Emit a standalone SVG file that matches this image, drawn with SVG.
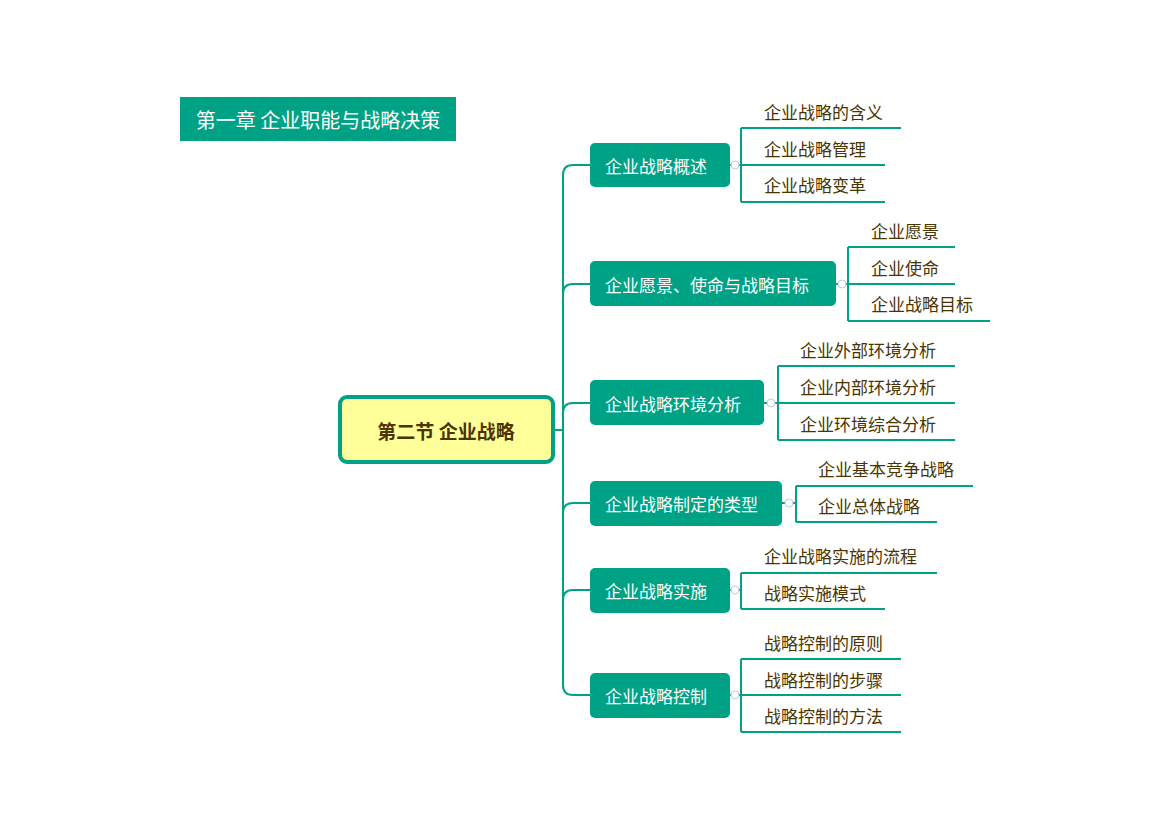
<svg xmlns="http://www.w3.org/2000/svg" width="1175" height="831" viewBox="0 0 1175 831">
<style>
.ln{fill:none;stroke:#00a285;stroke-width:2}
.br{fill:#00a285}
.bt{font-family:"Microsoft YaHei","Noto Sans CJK SC",sans-serif;font-size:17px;fill:#fff;dominant-baseline:central}
.ct{font-family:"Microsoft YaHei","Noto Sans CJK SC",sans-serif;font-size:17px;fill:#4a3400;dominant-baseline:central}
.cc{fill:#fff;stroke:#c0c8e8;stroke-width:1}
</style>
<rect width="1175" height="831" fill="#fff"/>
<g id="title"><rect x="180" y="97" width="276" height="44" fill="#00a285"/><text x="318" y="119" text-anchor="middle" style="font-family:'Microsoft YaHei','Noto Sans CJK SC',sans-serif;font-size:20px;fill:#fff;dominant-baseline:central">第一章 企业职能与战略决策</text></g>
<g id="connectors">
<path class="ln" d="M553 430H563M563 175Q563 165 573 165H590M563 294Q563 284 573 284H590M563 413Q563 403 573 403H590M563 513Q563 503 573 503H590M563 600Q563 590 573 590H590M563 685Q563 695 573 695H590M563 175V685"/>
<path class="ln" d="M730 165H741M741 128H901M741 128V202M741 165H885M741 202H885"/>
<path class="ln" d="M836 284H848M848 247H955M848 247V321M848 284H955M848 321H990"/>
<path class="ln" d="M764 403H778M778 366H955M778 366V440M778 403H955M778 440H955"/>
<path class="ln" d="M782 503H796M796 486H973M796 486V522M796 522H937"/>
<path class="ln" d="M730 590H741M741 573H937M741 573V609M741 609H885"/>
<path class="ln" d="M730 695H741M741 659H901M741 659V732M741 695H901M741 732H901"/>
<circle class="cc" cx="735" cy="165" r="4"/><circle class="cc" cx="842" cy="284" r="4"/><circle class="cc" cx="771" cy="403" r="4"/><circle class="cc" cx="789" cy="503" r="4"/><circle class="cc" cx="735" cy="590" r="4"/><circle class="cc" cx="735" cy="695" r="4"/>
</g>
<g id="root"><rect x="340" y="397" width="213" height="65" rx="7" fill="#ffff99" stroke="#00a285" stroke-width="4"/><text x="446" y="430" text-anchor="middle" style="font-family:'Microsoft YaHei','Noto Sans CJK SC',sans-serif;font-size:19px;font-weight:bold;fill:#4a3400;dominant-baseline:central">第二节 企业战略</text></g>
<g id="b1"><rect class="br" x="590" y="143" width="140" height="44" rx="5"/><text class="bt" x="605" y="165">企业战略概述</text></g>
<g id="b2"><rect class="br" x="590" y="261" width="246" height="45" rx="5"/><text class="bt" x="605" y="284">企业愿景、使命与战略目标</text></g>
<g id="b3"><rect class="br" x="590" y="380" width="174" height="45" rx="5"/><text class="bt" x="605" y="403">企业战略环境分析</text></g>
<g id="b4"><rect class="br" x="590" y="481" width="192" height="45" rx="5"/><text class="bt" x="605" y="503">企业战略制定的类型</text></g>
<g id="b5"><rect class="br" x="590" y="568" width="140" height="45" rx="5"/><text class="bt" x="605" y="590">企业战略实施</text></g>
<g id="b6"><rect class="br" x="590" y="673" width="140" height="45" rx="5"/><text class="bt" x="605" y="695">企业战略控制</text></g>
<g id="c1"><text class="ct" x="764" y="111">企业战略的含义</text></g>
<g id="c2"><text class="ct" x="764" y="148">企业战略管理</text></g>
<g id="c3"><text class="ct" x="764" y="184">企业战略变革</text></g>
<g id="c4"><text class="ct" x="871" y="230">企业愿景</text></g>
<g id="c5"><text class="ct" x="871" y="267">企业使命</text></g>
<g id="c6"><text class="ct" x="871" y="303">企业战略目标</text></g>
<g id="c7"><text class="ct" x="800" y="349">企业外部环境分析</text></g>
<g id="c8"><text class="ct" x="800" y="386">企业内部环境分析</text></g>
<g id="c9"><text class="ct" x="800" y="423">企业环境综合分析</text></g>
<g id="c10"><text class="ct" x="818" y="468">企业基本竞争战略</text></g>
<g id="c11"><text class="ct" x="818" y="505">企业总体战略</text></g>
<g id="c12"><text class="ct" x="764" y="555">企业战略实施的流程</text></g>
<g id="c13"><text class="ct" x="764" y="592">战略实施模式</text></g>
<g id="c14"><text class="ct" x="764" y="642">战略控制的原则</text></g>
<g id="c15"><text class="ct" x="764" y="679">战略控制的步骤</text></g>
<g id="c16"><text class="ct" x="764" y="715">战略控制的方法</text></g>
</svg>
